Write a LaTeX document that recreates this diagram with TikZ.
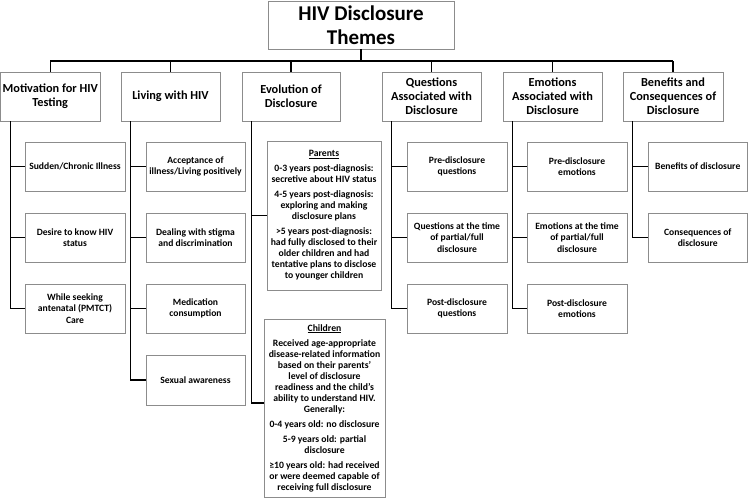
\documentclass[tikz,border=0pt]{standalone}
\usepackage{fontspec}
\setmainfont{Carlito}
\usetikzlibrary{calc}
\definecolor{boxgray}{HTML}{8C8C8C}
\newcommand\mybox[7]{\node[#6, minimum width={(#4)-(#2)}, minimum height={(#5)-(#3)}] (#1) at ({((#2)+(#4))/2},{((#3)+(#5))/2}) {#7};}
\begin{document}
\begin{tikzpicture}[x=1pt,y=-1pt,
 box/.style={draw=boxgray, line width=0.8pt, fill=white, align=center, inner sep=1pt, font=\bfseries\fontsize{9.6}{11.5}\selectfont},
 hdr/.style={box, font=\bfseries\fontsize{12.3}{13.8}\selectfont},
 ttl/.style={box, font=\bfseries\fontsize{21}{23.5}\selectfont},
 txtbox/.style={box, font=\bfseries\fontsize{9.7}{11}\selectfont},
 conn/.style={draw=black, line width=1.2pt}]
\fill[white] (0,0) rectangle (748,498);
\useasboundingbox (0,0) rectangle (748,498);
% title and headers
\mybox{title}{268}{1}{454}{49}{ttl}{HIV Disclosure\\Themes}
\mybox{h1}{0.5}{72}{100}{121}{hdr}{Motivation for HIV\\Testing}
\mybox{h2}{121}{72}{220}{121}{hdr}{Living with HIV}
\mybox{h3}{242}{72}{340}{121}{hdr}{Evolution of\\Disclosure}
\mybox{h4}{382}{72}{481}{121}{hdr}{Questions\\Associated with\\Disclosure}
\mybox{h5}{503}{72}{602}{121}{hdr}{Emotions\\Associated with\\Disclosure}
\mybox{h6}{623}{72}{723}{121}{hdr}{Benefits and\\Consequences of\\Disclosure}
% column 1
\mybox{a1}{25}{142}{125}{191}{box}{Sudden/Chronic Illness}
\mybox{a2}{25}{213}{125}{262}{box}{Desire to know HIV\\status}
\mybox{a3}{25}{284}{125}{333}{box}{While seeking\\antenatal (PMTCT)\\Care}
% column 2
\mybox{b1}{146}{142}{245}{191}{box}{Acceptance of\\illness/Living positively}
\mybox{b2}{146}{213}{245}{262}{box}{Dealing with stigma\\and discrimination}
\mybox{b3}{146}{284}{245}{333}{box}{Medication\\consumption}
\mybox{b4}{146}{355}{245}{405}{box}{Sexual awareness}
% column 3
\mybox{p}{267}{141}{381}{290}{txtbox}{\underline{Parents}\\[4pt]0-3 years post-diagnosis:\\secretive about HIV status\\[4pt]4-5 years post-diagnosis:\\exploring and making\\disclosure plans\\[4pt]>5 years post-diagnosis:\\had fully disclosed to their\\older children and had\\tentative plans to disclose\\to younger children}
\mybox{c}{264}{319}{385}{497}{txtbox}{\underline{Children}\\[4pt]Received age-appropriate\\disease-related information\\based on their parents'\\level of disclosure\\readiness and the child's\\ability to understand HIV.\\Generally:\\[4pt]0-4 years old: no disclosure\\[4pt]5-9 years old: partial\\disclosure\\[4pt]≥10 years old: had received\\or were deemed capable of\\receiving full disclosure}
% column 4
\mybox{d1}{407}{142}{507}{191}{box}{Pre-disclosure\\questions}
\mybox{d2}{407}{213}{507}{262}{box}{Questions at the time\\of partial/full\\disclosure}
\mybox{d3}{407}{284}{507}{333}{box}{Post-disclosure\\questions}
% column 5
\mybox{e1}{527}{142}{627}{191}{box}{Pre-disclosure\\emotions}
\mybox{e2}{527}{213}{627}{262}{box}{Emotions at the time\\of partial/full\\disclosure}
\mybox{e3}{527}{284}{627}{333}{box}{Post-disclosure\\emotions}
% column 6
\mybox{f1}{648}{142}{747.5}{191}{box}{Benefits of disclosure}
\mybox{f2}{648}{213}{747.5}{262}{box}{Consequences of\\disclosure}
% bus
\coordinate (bus) at (0,61);
\draw[conn] (title.south) -- (title.south |- bus);
\draw[conn] (h1.north |- bus) -- (h6.north |- bus);
\foreach \h in {h1,h2,h3,h4,h5,h6} \draw[conn] (\h.north) -- (\h.north |- bus);
% column connectors
\foreach \c in {a1,a2,a3} \draw[conn] ([xshift=10pt]h1.south west) |- (\c.west);
\foreach \c in {b1,b2,b3,b4} \draw[conn] ([xshift=10pt]h2.south west) |- (\c.west);
\draw[conn] ([xshift=10pt]h3.south west) |- (p.west);
\draw[conn] ([xshift=10pt]h3.south west) |- ([yshift=5pt]c.west);
\foreach \c in {d1,d2,d3} \draw[conn] ([xshift=10pt]h4.south west) |- (\c.west);
\foreach \c in {e1,e2,e3} \draw[conn] ([xshift=10pt]h5.south west) |- (\c.west);
\foreach \c in {f1,f2} \draw[conn] ([xshift=10pt]h6.south west) |- (\c.west);
\end{tikzpicture}
\end{document}
